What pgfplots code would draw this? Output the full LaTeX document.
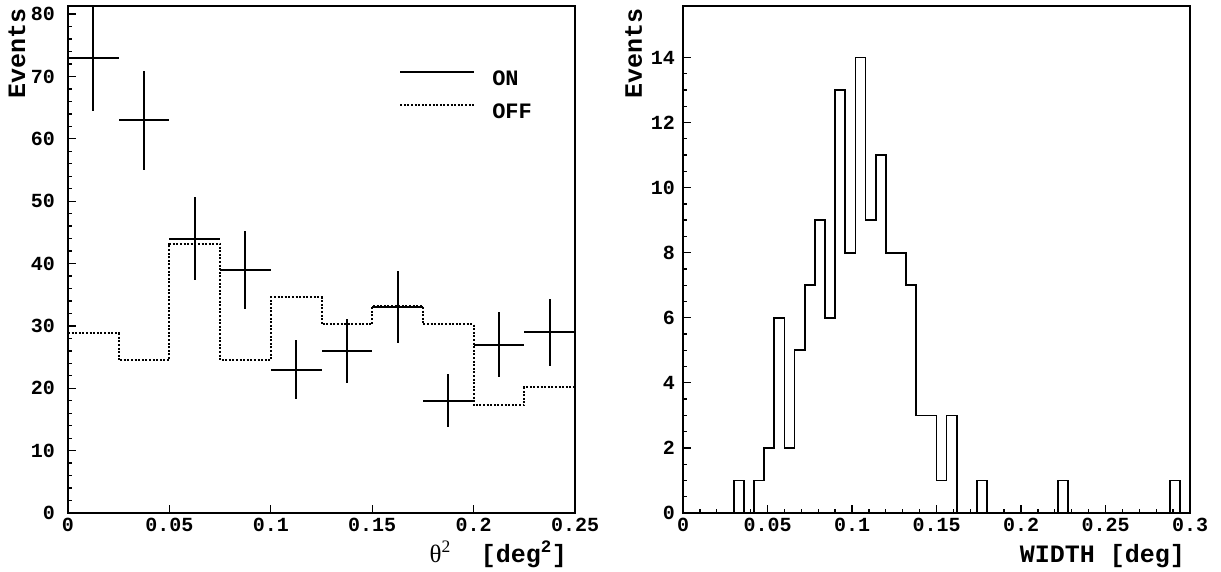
\documentclass[border=0pt]{standalone}
\usepackage{fontspec}
\setmainfont{Liberation Mono}
\newfontfamily\symfont{Liberation Serif}
\usepackage{pgfplots}
\pgfplotsset{compat=1.18}
\pgfplotstableread{
x      y   ex      ey
0.0125 73  0.0125  8.544
0.0375 63  0.0125  7.937
0.0625 44  0.0125  6.633
0.0875 39  0.0125  6.245
0.1125 23  0.0125  4.796
0.1375 26  0.0125  5.099
0.1625 33  0.0125  5.745
0.1875 18  0.0125  4.243
0.2125 27  0.0125  5.196
0.2375 29  0.0125  5.385
}\ondata
\pgfplotstableread{
x     y
0     28.80
0.025 24.48
0.05  43.20
0.075 24.48
0.1   34.56
0.125 30.24
0.15  33.12
0.175 30.24
0.2   17.28
0.225 20.16
0.25  0
}\offdata
\pgfplotstableread{
x     y
0     0
0.030 1
0.036 0
0.042 1
0.048 2
0.054 6
0.060 2
0.066 5
0.072 7
0.078 9
0.084 6
0.090 13
0.096 8
0.102 14
0.108 9
0.114 11
0.120 8
0.126 8
0.132 7
0.138 3
0.144 3
0.150 1
0.156 3
0.162 0
0.174 1
0.180 0
0.222 1
0.228 0
0.288 1
0.294 0
0.300 0
}\widthdata
\begin{document}
\begin{tikzpicture}
\useasboundingbox (0,0) rectangle (1221pt,571pt);
\pgfplotsset{
 every axis/.append style={
  scale only axis, width=507pt, height=507pt,
  axis line style={line width=1.6pt},
  tick style={black, line width=1.3pt},
  major tick length=8pt, minor tick length=4pt,
  xtick pos=bottom, ytick pos=left, tick align=inside,
  ticklabel style={font=\bfseries\fontsize{20}{20}\selectfont, inner sep=0pt},
  /pgf/number format/assume math mode=true,
  label style={font=\bfseries\fontsize{25}{25}\selectfont, inner sep=0pt},
  scaled ticks=false,
  xticklabel style={yshift=-5pt},
 }
}
\begin{axis}[at={(68pt,58pt)}, anchor=south west,
 xmin=0, xmax=0.25, ymin=0, ymax=81.3,
 xtick={0,0.05,0.1,0.15,0.2,0.25}, xticklabels={0,0.05,0.1,0.15,0.2,0.25},
 ytick={0,10,...,80}, minor y tick num=4,
 yticklabel style={xshift=-13pt},
 xlabel={{\mdseries\symfont\fontsize{25}{25}\selectfont θ\textsuperscript{2}}\ \ [deg\textsuperscript{2}]},
 xlabel style={at={(axis description cs:1,0)}, anchor=base east, xshift=-8pt, yshift=-49pt},
 ylabel={Events},
 ylabel style={at={(axis description cs:-0.0848,0.996)}, anchor=base east},
 legend style={draw=none, fill=none, inner sep=0pt, at={(axis description cs:0.653,0.873)}, anchor=north west,
   font=\bfseries\fontsize{22}{22}\selectfont, nodes={inner sep=0pt}, column sep=17pt, row sep=17pt},
 legend image code/.code={\draw[#1] (0pt,6.5pt) -- (74pt,6.5pt);},
 legend cell align=left,
]
\addplot[draw=none, mark=none, forget plot,
 error bars/.cd, x dir=both, x explicit, y dir=both, y explicit, error mark=none,
 error bar style={draw=black, line width=2pt}]
 table[x=x, y=y, x error=ex, y error=ey]{\ondata};
\addplot[const plot mark left, black, line width=2pt, dash pattern=on 2pt off 1.6pt, forget plot] table[x=x,y=y]{\offdata};
\addlegendimage{black, line width=2pt}
\addlegendentry{ON}
\addlegendimage{black, line width=2pt, dash pattern=on 2pt off 1.6pt}
\addlegendentry{OFF}
\end{axis}
\begin{axis}[at={(683pt,58pt)}, anchor=south west,
 xmin=0, xmax=0.3, ymin=0, ymax=15.58,
 xtick={0,0.05,0.1,0.15,0.2,0.25,0.3}, xticklabels={0,0.05,0.1,0.15,0.2,0.25,0.3},
 minor x tick num=4,
 ytick={0,2,...,14}, minor y tick num=3,
 yticklabel style={xshift=-8pt},
 xlabel={WIDTH [deg]},
 xlabel style={at={(axis description cs:1,0)}, anchor=base east, xshift=-5pt, yshift=-49pt},
 ylabel={Events},
 ylabel style={at={(axis description cs:-0.0809,0.996)}, anchor=base east},
]
\addplot[const plot mark left, black, line width=1.7pt] table[x=x,y=y]{\widthdata};
\end{axis}
\end{tikzpicture}
\end{document}
